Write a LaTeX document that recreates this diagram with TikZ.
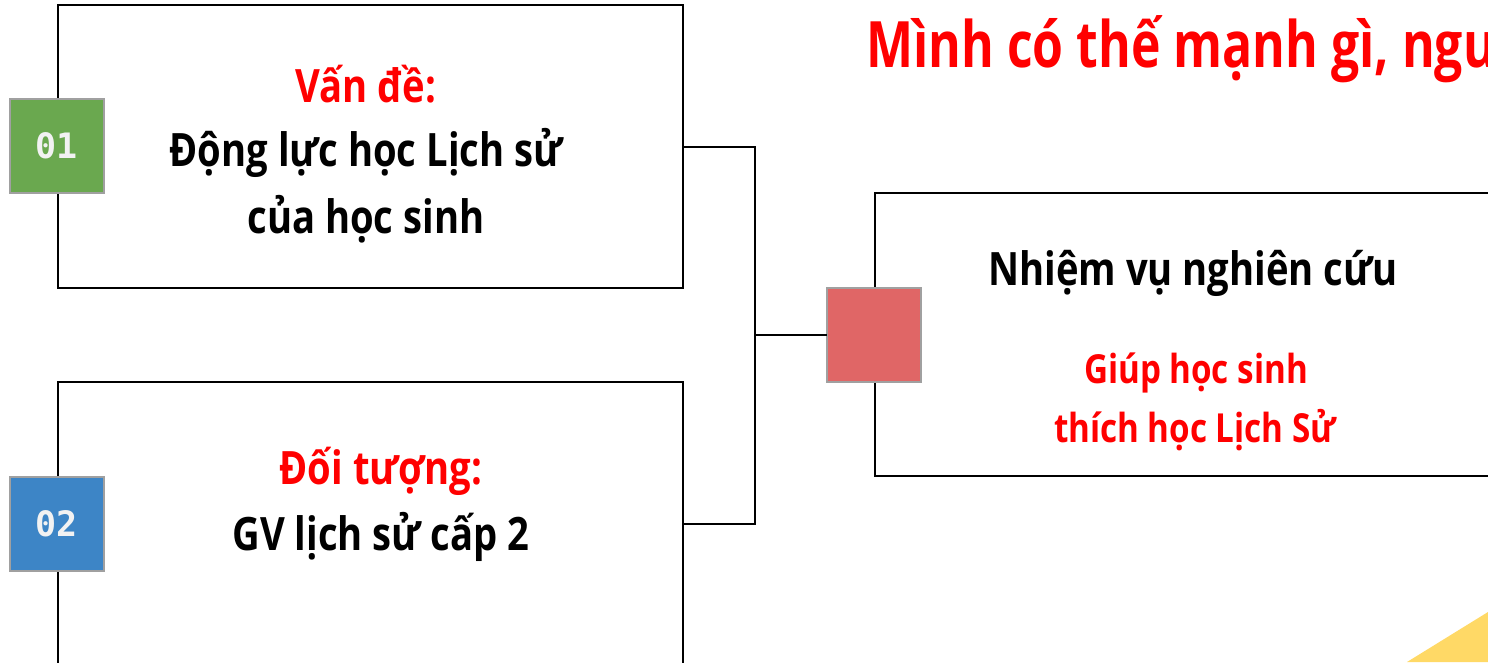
\documentclass[tikz,border=0pt]{standalone}
\usepackage{fontspec}
\newfontfamily\cond{Open Sans}[FakeStretch=0.83]
\newfontfamily\headfont{Open Sans}[FakeStretch=0.78]
\newfontfamily\badgefont{DejaVu Sans Mono}
\definecolor{hdred}{HTML}{FF0000}
\definecolor{greenbadge}{HTML}{6AA84F}
\definecolor{bluebadge}{HTML}{3D85C6}
\definecolor{redbadge}{HTML}{E06666}
\definecolor{badgeline}{HTML}{A0A0A0}
\definecolor{sunyellow}{HTML}{FFD966}
\tikzset{
  panel/.style={draw=black, line width=1.6pt, fill=white, minimum width=625pt, minimum height=283pt, inner sep=0pt, outer sep=0pt},
  badge/.style={draw=badgeline, line width=2pt, minimum size=94pt, inner sep=0pt, outer sep=0pt,
    font=\badgefont\bfseries\fontsize{35}{35}\selectfont, text=white!95!black},
  link/.style={draw=black, line width=2pt},
  bigtxt/.style={anchor=base, inner sep=0pt, font=\cond\bfseries\fontsize{46}{46}\selectfont},
  midtxt/.style={anchor=base, inner sep=0pt, font=\cond\bfseries\fontsize{40}{40}\selectfont, text=hdred},
}
\begin{document}
\begin{tikzpicture}[x=1pt, y=-1pt]
\useasboundingbox (0,0) rectangle (1488,662);
\clip (0,0) rectangle (1488,662);
\fill[white] (0,0) rectangle (1488,662);

% corner decoration
\fill[sunyellow] (1407,662) -- (1488,612) -- (1488,662) -- cycle;

% heading
\node[anchor=base west, inner sep=0pt, text=hdred, font=\headfont\bfseries\fontsize{64}{64}\selectfont] (title) at (866,67) {Mình có thế mạnh gì, nguồn lực gì?};

% panels
\node[panel] (b1) at (370.5,146.5) {};
\node[panel] (b2) at (370.5,523.5) {};
\node[panel] (b3) at (1187.5,334.5) {};

% connectors
\coordinate (j) at (755,335);
\draw[link] (b1.east) -| (j) |- (b2.east);
\node[badge, fill=redbadge] (sq) at (874,335) {};
\draw[link] (j) -- (sq.west);

% badges
\node[badge, fill=greenbadge] (n1) at (57,146) {01};
\node[badge, fill=bluebadge] (n2) at (57,524) {02};

% panel texts
\node[bigtxt, text=hdred] (t1a) at (366,102) {Vấn đề:};
\node[bigtxt] (t1b) at (366,166) {Động lực học Lịch sử};
\node[bigtxt] (t1c) at (366,233) {của học sinh};

\node[bigtxt, text=hdred] (t2a) at (381,484) {Đối tượng:};
\node[bigtxt] (t2b) at (381,550) {GV lịch sử cấp 2};

\node[bigtxt] (t3a) at (1193,285) {Nhiệm vụ nghiên cứu};
\node[midtxt] (t3b) at (1196,383) {Giúp học sinh};
\node[midtxt] (t3c) at (1195,442) {thích học Lịch Sử};
\end{tikzpicture}
\end{document}
